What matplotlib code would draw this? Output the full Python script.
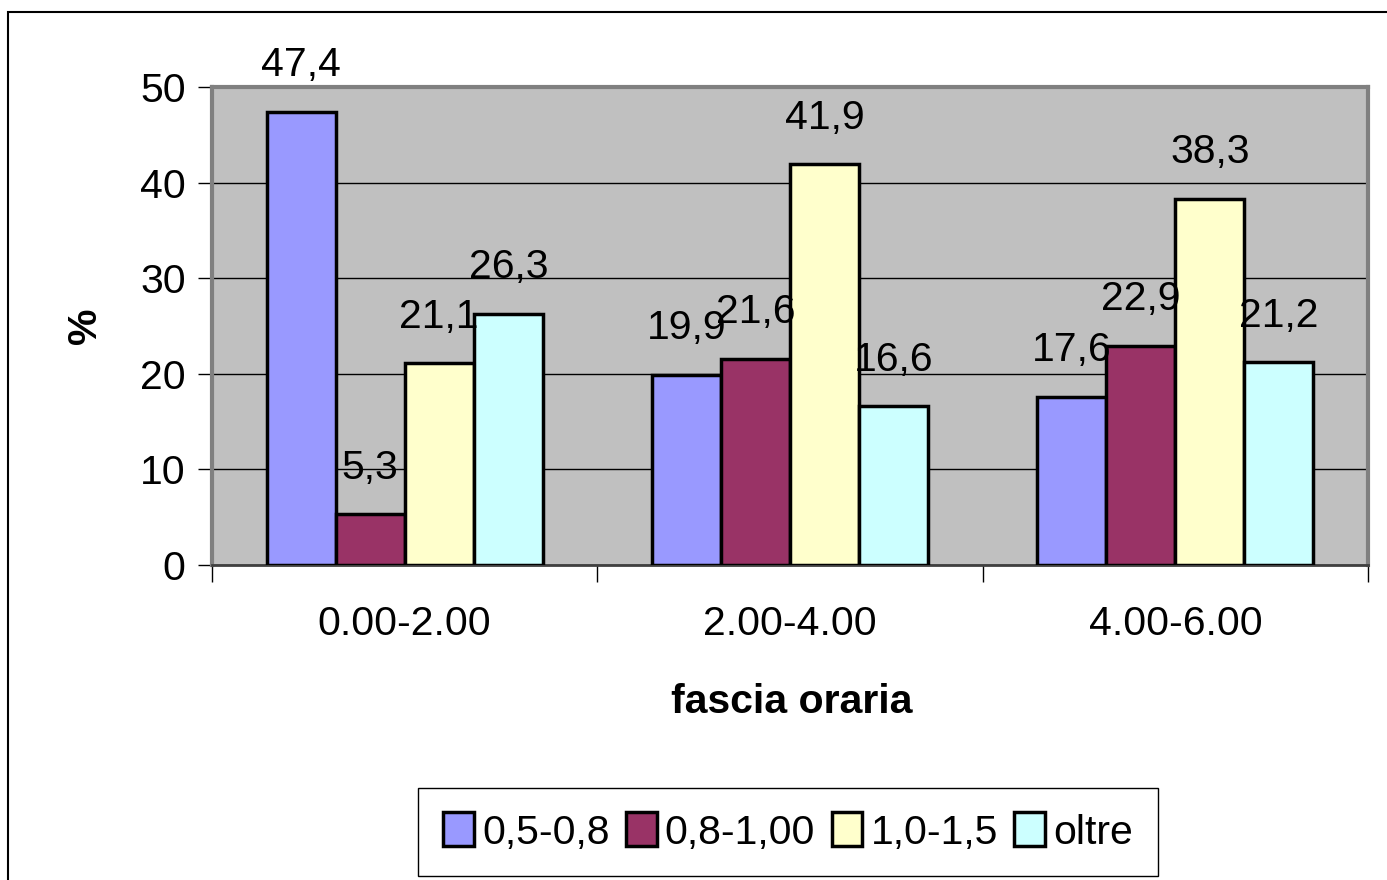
import matplotlib
matplotlib.use("Agg")
import matplotlib.pyplot as plt
from matplotlib.patches import Rectangle

plt.rcParams['font.family'] = ['Liberation Sans', 'DejaVu Sans']

# data
fasce = ['0.00-2.00', '2.00-4.00', '4.00-6.00']
serie = ['0,5-0,8', '0,8-1,00', '1,0-1,5', 'oltre']
valori = [
    [47.4, 19.9, 17.6],
    [5.3, 21.6, 22.9],
    [21.1, 41.9, 38.3],
    [26.3, 16.6, 21.2],
]
colori = ['#9999FF', '#993366', '#FFFFCC', '#CCFFFF']
yticks = [0, 10, 20, 30, 40, 50]

fs = 29.5
W, H = 1387, 880
fig = plt.figure(figsize=(W / 100, H / 100), dpi=100)
fig.patch.set_facecolor('white')

# outer frame of the chart
fig.patches.append(Rectangle((8 / W, -0.05), 1.2, 1 - 12 / H + 0.05,
                             transform=fig.transFigure, fill=False,
                             edgecolor='black', lw=1.5))

ax = fig.add_axes([212 / W, 1 - 565 / H, 1156 / W, 478 / H])
ax.set_facecolor('#C0C0C0')

w = 69 / 385
for i, (nome, vals) in enumerate(zip(serie, valori)):
    xs = [k + (i - 1.5) * w for k in range(len(fasce))]
    bars = ax.bar(xs, vals, width=w, color=colori[i], edgecolor='black',
                  linewidth=2.5, label=nome, zorder=3)
    for x, v in zip(xs, vals):
        ax.annotate(('%.1f' % v).replace('.', ','), (x, v),
                    xytext=(0, 20), textcoords='offset points',
                    ha='center', va='bottom', fontsize=fs, zorder=5)

ax.set_xlim(-0.5, 2.5)
ax.set_ylim(0, 50)
ax.set_yticks(yticks)
ax.set_yticklabels([str(t) for t in yticks], fontsize=fs)
ax.yaxis.grid(True, color='black', lw=1, zorder=1)
ax.tick_params(axis='y', length=10, width=1, pad=9)

# category labels between boundary ticks
ax.set_xticks([-0.5, 0.5, 1.5, 2.5])
ax.set_xticklabels([])
ax.tick_params(axis='x', length=12, width=1)
ax.set_xticks(range(len(fasce)), minor=True)
ax.set_xticklabels(fasce, minor=True, fontsize=fs)
ax.tick_params(axis='x', which='minor', length=0, pad=29)

for s in ['top', 'right', 'left']:
    ax.spines[s].set_color('#808080')
    ax.spines[s].set_linewidth(3)
ax.spines['bottom'].set_color('#404040')
ax.spines['bottom'].set_linewidth(2)

fig.text(792 / W, 1 - 702 / H, 'fascia oraria', ha='center', va='center',
         fontsize=fs, fontweight='bold')
fig.text(85 / W, 1 - 326 / H, '%', ha='center', va='center', rotation=90,
         fontsize=fs, fontweight='bold')

leg = fig.legend(loc='center', bbox_to_anchor=(788 / W, 1 - 832 / H), ncol=4,
                 fontsize=fs, fancybox=False, edgecolor='black',
                 handlelength=0.75, handleheight=0.9, handletextpad=0.2,
                 columnspacing=0.4, borderpad=0.6, framealpha=1)
leg.get_frame().set_linewidth(1)
for p in leg.get_patches():
    p.set_linewidth(2.5)

fig.savefig('out.png', dpi=100)
